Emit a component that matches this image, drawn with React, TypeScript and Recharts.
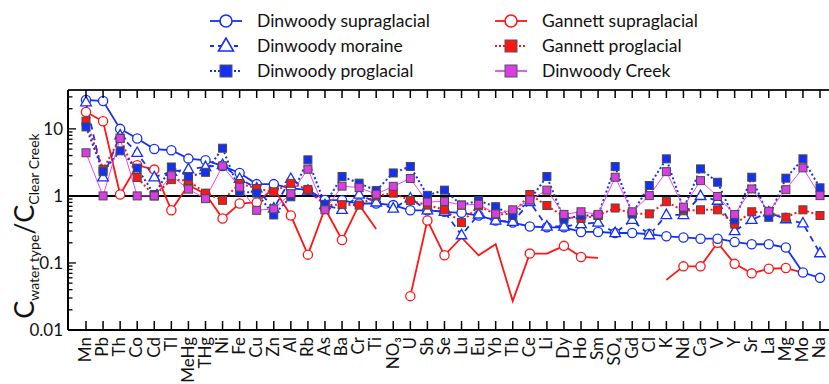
import React from 'react';
import { LineChart, Line, XAxis, YAxis, ReferenceLine } from 'recharts';

const categories = ['Mn','Pb','Th','Co','Cd','Tl','MeHg','THg','Ni','Fe','Cu','Zn','Al','Rb','As','Ba','Cr','Ti','NO₃','U','Sb','Se','Lu','Eu','Yb','Tb','Ce','Li','Dy','Ho','Sm','SO₄','Gd','Cl','K','Nd','Ca','V','Y','Sr','La','Mg','Mo','Na'];

const dinwoodySupraglacial = [27,26,10,7.2,5.0,4.8,3.6,3.4,2.8,2.2,1.5,1.5,1.3,1.23,0.87,0.86,0.77,0.77,0.73,0.61,0.61,0.58,0.56,0.51,0.43,0.40,0.35,0.34,0.34,0.29,0.29,0.28,0.28,0.27,0.25,0.24,0.23,0.23,0.206,0.19,0.19,0.17,0.072,0.06];
const dinwoodyMoraine = [25,1.9,8,4.4,1.9,2.3,2.5,2.7,2.9,1.8,1.3,0.65,1.8,1.2,0.73,0.62,1.05,0.8,0.65,0.92,0.61,0.58,0.26,0.53,0.43,0.41,0.81,0.35,0.35,0.38,0.40,0.28,0.44,0.26,0.52,0.52,1.0,0.85,0.30,0.44,0.57,0.45,0.39,0.14];
const dinwoodyProglacial = [10.7,2.3,4.7,2.6,1.05,2.7,1.95,2.25,5.15,1.17,1.1,0.52,0.97,3.45,0.75,1.95,1.55,1.2,2.2,2.75,1.02,1.22,0.73,0.85,0.69,0.51,0.87,1.95,0.45,0.51,0.51,2.74,0.54,1.43,3.57,0.64,2.53,1.6,0.44,1.9,0.48,1.84,3.57,1.32];
const gannettSupraglacial = [17.9,13,1.05,2.87,2.47,0.61,1.45,1.07,0.46,0.77,0.8,1.3,0.51,0.133,0.65,0.22,0.74,0.32,null,0.032,0.43,0.13,0.24,0.13,0.19,0.027,0.138,0.138,0.18,0.123,0.119,null,null,null,0.056,0.089,0.089,0.2,0.097,0.07,0.082,0.084,0.072,null];
const gannettSupraglacialUnmarked = ['Cr','Ti','Lu','Eu','Yb','Tb','Li','Sm','K','Mo'];
const gannettProglacial = [13,2.5,7.3,1.88,1.0,1.75,1.7,1.1,0.86,1.53,1.29,1.15,1.54,1.25,0.73,0.74,0.73,1.0,1.1,0.85,0.73,0.62,0.40,0.71,0.53,0.54,1.05,0.72,0.49,0.46,0.51,0.66,0.54,0.54,0.82,0.6,0.62,0.62,0.38,0.58,0.56,0.48,0.62,0.51];
const dinwoodyCreek = [4.4,1.0,7.2,1.0,1.0,2.0,1.26,0.91,2.8,1.35,0.61,0.64,1.08,2.5,0.62,1.4,1.33,1.06,1.39,1.82,0.81,0.83,0.73,0.75,0.54,0.62,0.87,1.22,0.53,0.58,0.53,1.9,0.58,1.01,2.3,0.68,1.69,0.98,0.53,1.27,0.59,1.24,2.62,1.01];

const yMajorTicks = [0.01, 0.1, 1, 10];
const yMinorTicks = [0.02,0.03,0.04,0.05,0.06,0.07,0.08,0.09,0.2,0.3,0.4,0.5,0.6,0.7,0.8,0.9,2,3,4,5,6,7,8,9,20,30];
const yTickLabels = ['0.01', '0.1', '1', '10'];

const data = categories.map((name, i) => ({
  name,
  ds: dinwoodySupraglacial[i],
  dm: dinwoodyMoraine[i],
  dp: dinwoodyProglacial[i],
  gs: gannettSupraglacial[i],
  gp: gannettProglacial[i],
  dc: dinwoodyCreek[i],
}));

const BLUE = '#1530f5';
const RED = '#ff1515';
const MAG = '#ee46ee';
const MAG_FILL = '#d83ee2';
const FONT = 'Lato, "Open Sans", sans-serif';

const OpenCircle = ({ cx, cy, color }: any) => (
  <circle cx={cx} cy={cy} r={4.6} fill="#fff" stroke={color} strokeWidth={1.3} />
);
const OpenTriangle = ({ cx, cy, color }: any) => (
  <path d={`M${cx},${cy - 5.8} L${cx - 5.3},${cy + 3.6} L${cx + 5.3},${cy + 3.6} Z`} fill="#fff" stroke={color} strokeWidth={1.3} />
);
const Square = ({ cx, cy, fill }: any) => (
  <rect x={cx - 4} y={cy - 4} width={8} height={8} fill={fill} stroke="#4a4a4a" strokeWidth={1} />
);

const ok = (p: any) => p && p.cx != null && p.cy != null && p.value != null && !Number.isNaN(p.cy);

const dotCircle = (color: string, skip: string[] = []) => (p: any) => {
  if (!ok(p) || (p.payload && skip.includes(p.payload.name))) return <g key={`c-${color}-${p.index}`} />;
  return <OpenCircle key={`c-${color}-${p.index}`} cx={p.cx} cy={p.cy} color={color} />;
};
const dotTriangle = (color: string) => (p: any) => {
  if (!ok(p)) return <g key={`t-${p.index}`} />;
  return <OpenTriangle key={`t-${p.index}`} cx={p.cx} cy={p.cy} color={color} />;
};
const dotSquare = (fill: string) => (p: any) => {
  if (!ok(p)) return <g key={`s-${fill}-${p.index}`} />;
  return <Square key={`s-${fill}-${p.index}`} cx={p.cx} cy={p.cy} fill={fill} />;
};

const YTick = (props: any) => {
  const { x, y, payload } = props;
  const v = payload.value;
  const mi = yMajorTicks.indexOf(v);
  const major = mi >= 0;
  return (
    <g>
      <line x1={x} x2={x + (major ? 8 : 4.5)} y1={y} y2={y} stroke="#000" strokeWidth={1.3} />
      {major && (
        <text x={x - 5} y={y} dy="0.36em" textAnchor="end" fontSize={17} fontFamily={FONT} fill="#111">
          {yTickLabels[mi]}
        </text>
      )}
    </g>
  );
};

const XTick = (props: any) => {
  const { x, y, payload } = props;
  return (
    <g>
      <line x1={x} x2={x} y1={y} y2={y - 9} stroke="#000" strokeWidth={1.5} />
      <text transform={`translate(${x},${y + 7}) rotate(-90)`} dy="0.31em" textAnchor="end" fontSize={17} fontFamily={FONT} fill="#111">
        {payload.value}
      </text>
    </g>
  );
};

const TopTick = (props: any) => {
  const { x, y } = props;
  return <line x1={x} x2={x} y1={y} y2={y + 8} stroke="#000" strokeWidth={1.5} />;
};

const legendItems = [
  { label: 'Dinwoody supraglacial', color: BLUE, dash: undefined, marker: 'circle', x: 210, y: 21 },
  { label: 'Dinwoody moraine', color: BLUE, dash: '4 4', marker: 'triangle', x: 210, y: 46 },
  { label: 'Dinwoody proglacial', color: BLUE, dash: '2 2', marker: 'square', fill: BLUE, x: 210, y: 71 },
  { label: 'Gannett supraglacial', color: RED, dash: undefined, marker: 'circle', x: 495, y: 21 },
  { label: 'Gannett proglacial', color: RED, dash: '2 2', marker: 'square', fill: RED, x: 495, y: 46 },
  { label: 'Dinwoody Creek', color: MAG, dash: undefined, marker: 'square', fill: MAG_FILL, x: 495, y: 71 },
];

const LegendBox = () => (
  <svg width={829} height={88} style={{ position: 'absolute', left: 0, top: 0 }}>
    {legendItems.map((it) => {
      const cx = it.x + 16;
      return (
        <g key={it.label}>
          <line x1={it.x} x2={it.x + 32} y1={it.y} y2={it.y} stroke={it.color} strokeWidth={1.8} strokeDasharray={it.dash} />
          {it.marker === 'circle' && <circle cx={cx} cy={it.y} r={6} fill="#fff" stroke={it.color} strokeWidth={1.6} />}
          {it.marker === 'triangle' && (
            <path d={`M${cx},${it.y - 8} L${cx - 7.5},${it.y + 5} L${cx + 7.5},${it.y + 5} Z`} fill="#fff" stroke={it.color} strokeWidth={1.6} />
          )}
          {it.marker === 'square' && (
            <rect x={cx - 6} y={it.y - 6} width={12} height={12} fill={(it as any).fill} stroke="#555" strokeWidth={1} />
          )}
          <text x={it.x + 47} y={it.y} dy="0.36em" fontSize={17.5} fontFamily={FONT} fill="#111">
            {it.label}
          </text>
        </g>
      );
    })}
  </svg>
);

export default function App() {
  return (
    <div style={{ position: 'absolute', left: 0, top: 0, width: 829, height: 384, background: '#fff' }}>
      <LineChart width={829} height={384} data={data} margin={{ top: 90, right: 0, bottom: 0, left: 0 }}>
        <XAxis
          xAxisId="b"
          dataKey="name"
          interval={0}
          padding={{ left: 18, right: 9 }}
          height={54}
          tickSize={0}
          tickMargin={0}
          tickLine={false}
          tick={<XTick />}
          axisLine={{ stroke: '#000', strokeWidth: 2 }}
        />
        <XAxis
          xAxisId="t"
          dataKey="name"
          orientation="top"
          mirror
          interval={0}
          padding={{ left: 18, right: 9 }}
          height={1}
          tickSize={0}
          tickMargin={0}
          tickLine={false}
          tick={<TopTick />}
          axisLine={{ stroke: '#222', strokeWidth: 2 }}
        />
        <YAxis
          scale="log"
          type="number"
          domain={[0.01, 38]}
          allowDataOverflow
          ticks={[...yMajorTicks, ...yMinorTicks]}
          interval={0}
          width={68}
          tickSize={0}
          tickMargin={0}
          tickLine={false}
          tick={<YTick />}
          axisLine={{ stroke: '#000', strokeWidth: 2 }}
        />
        <ReferenceLine xAxisId="b" y={1} stroke="#000" strokeWidth={2} />
        <Line xAxisId="b" dataKey="gs" stroke={RED} strokeWidth={1.8} dot={dotCircle(RED, gannettSupraglacialUnmarked)} isAnimationActive={false} activeDot={false} />
        <Line xAxisId="b" dataKey="ds" stroke={BLUE} strokeWidth={1.8} dot={dotCircle(BLUE)} isAnimationActive={false} activeDot={false} />
        <Line xAxisId="b" dataKey="dm" stroke={BLUE} strokeWidth={1.8} strokeDasharray="6 5" dot={dotTriangle(BLUE)} isAnimationActive={false} activeDot={false} />
        <Line xAxisId="b" dataKey="gp" stroke={RED} strokeWidth={2} strokeDasharray="2 2.5" dot={dotSquare(RED)} isAnimationActive={false} activeDot={false} />
        <Line xAxisId="b" dataKey="dp" stroke={BLUE} strokeWidth={2} strokeDasharray="2 2.5" dot={dotSquare(BLUE)} isAnimationActive={false} activeDot={false} />
        <Line xAxisId="b" dataKey="dc" stroke={MAG} strokeWidth={1} dot={dotSquare(MAG_FILL)} isAnimationActive={false} activeDot={false} />
      </LineChart>
      <svg width={60} height={384} style={{ position: 'absolute', left: 0, top: 0 }}>
        <text transform="translate(34,226) rotate(-90)" textAnchor="middle" fontFamily={FONT} fill="#111" fontSize={27}>
          C<tspan fontSize={14} dy={5}>water type</tspan>
          <tspan dy={-5}>/C</tspan>
          <tspan fontSize={14} dy={5}>Clear Creek</tspan>
        </text>
      </svg>
      <LegendBox />
    </div>
  );
}
